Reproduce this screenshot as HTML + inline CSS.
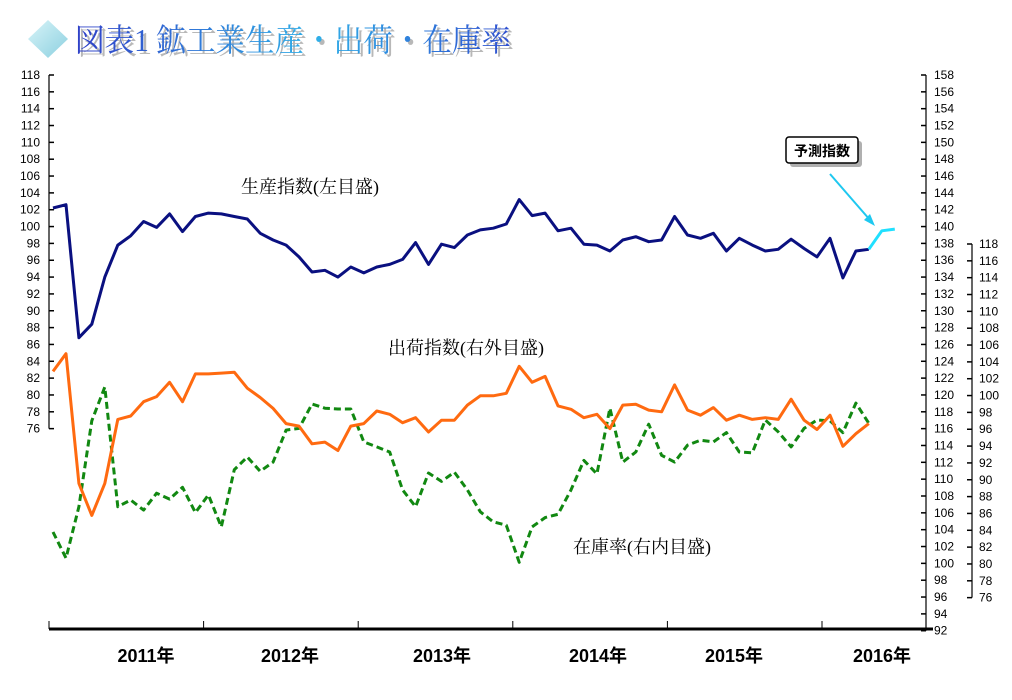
<!DOCTYPE html>
<html><head><meta charset="utf-8"><style>
html,body{margin:0;padding:0;background:#fff;}
svg{display:block;}
text{font-family:"Liberation Sans","Noto Sans CJK JP",sans-serif;}
.tk{font-size:12px;fill:#000;}
.lbl{font-family:"Liberation Serif","Noto Serif CJK JP",serif;font-size:18px;fill:#000;}
</style></head><body>
<svg id="chart" width="1012" height="700" viewBox="0 0 1012 700" xmlns="http://www.w3.org/2000/svg">
<defs>
<linearGradient id="tg" x1="0" x2="1" y1="0" y2="0"><stop offset="0" stop-color="#3040c8"/><stop offset="0.55" stop-color="#30b0e8"/><stop offset="1" stop-color="#3050d0"/></linearGradient>
<linearGradient id="dg" x1="0" x2="1" y1="0" y2="1"><stop offset="0" stop-color="#d8f4f8"/><stop offset="1" stop-color="#8cd0e0"/></linearGradient>
</defs>
<g>
<polygon points="48,20 68,39 48,58 28,39" fill="url(#dg)"/>
<text x="78" y="54" font-size="32" fill="#b8b8b8" textLength="436" lengthAdjust="spacingAndGlyphs" style="font-family:'Liberation Serif','Noto Serif CJK JP',serif">図表1 鉱工業生産・出荷・在庫率</text>
<text x="75" y="51" font-size="32" fill="url(#tg)" textLength="436" lengthAdjust="spacingAndGlyphs" style="font-family:'Liberation Serif','Noto Serif CJK JP',serif">図表1 鉱工業生産・出荷・在庫率</text>
</g>
<g id="axes"></g>
<g id="series"></g>
<text class="lbl" x="241" y="193">生産指数(左目盛)</text>
<text class="lbl" x="388" y="354">出荷指数(右外目盛)</text>
<text class="lbl" x="573" y="553">在庫率(右内目盛)</text>
<g>
<rect x="790" y="141" width="72" height="26" rx="3" fill="#b0b0b0"/>
<rect x="786" y="137" width="72" height="26" rx="3" fill="#fff" stroke="#000" stroke-width="1.5"/>
<text x="822" y="156" text-anchor="middle" font-size="14" font-weight="bold" style="font-family:'Liberation Sans','Noto Sans CJK JP',sans-serif">予測指数</text>
<line x1="830" y1="174" x2="870" y2="220" stroke="#1ec8f0" stroke-width="2"/>
<polygon points="875,226 864,220 870,214" fill="#1ec8f0"/>
</g>
</svg>
<script>
const production = [102.2,102.6,86.8,88.4,94.0,97.8,98.9,100.6,99.9,101.5,99.4,101.2,101.6,101.5,101.2,100.9,99.2,98.4,97.8,96.4,94.6,94.8,94.0,95.2,94.5,95.2,95.5,96.1,98.1,95.5,97.9,97.5,99.0,99.6,99.8,100.3,103.2,101.3,101.6,99.5,99.8,97.9,97.8,97.1,98.4,98.8,98.2,98.4,101.2,99.0,98.6,99.2,97.1,98.6,97.8,97.1,97.3,98.5,97.4,96.4,98.6,93.9,97.1,97.3];
const forecast = [97.3,99.5,99.7];
const shipments = [122.8,124.9,109.5,105.7,109.5,117.1,117.5,119.2,119.8,121.5,119.2,122.5,122.5,122.6,122.7,120.8,119.7,118.4,116.6,116.3,114.2,114.4,113.4,116.3,116.6,118.1,117.7,116.7,117.3,115.6,117.0,117.0,118.8,119.9,119.9,120.2,123.4,121.5,122.2,118.7,118.3,117.3,117.7,116.0,118.8,118.9,118.2,118.0,121.2,118.2,117.6,118.5,117.0,117.6,117.1,117.3,117.1,119.5,117.0,115.9,117.6,113.9,115.4,116.6];
const inventory = [83.8,80.7,86.8,97.0,101.0,86.8,87.6,86.4,88.4,87.7,89.1,86.1,88.2,84.4,91.2,92.7,91.0,92.1,95.9,96.1,99.0,98.5,98.4,98.4,94.5,93.9,93.3,88.8,86.8,90.8,89.8,90.9,88.8,86.2,85.0,84.6,80.2,84.4,85.5,85.9,88.8,92.3,90.7,98.5,92.1,93.3,96.6,92.9,92.1,94.1,94.7,94.5,95.6,93.3,93.2,97.1,95.7,93.9,96.1,97.1,97.0,95.6,99.1,96.7];
const leftTicks = [76,78,80,82,84,86,88,90,92,94,96,98,100,102,104,106,108,110,112,114,116,118];
const outerTicks = [92,94,96,98,100,102,104,106,108,110,112,114,116,118,120,122,124,126,128,130,132,134,136,138,140,142,144,146,148,150,152,154,156,158];
const innerTicks = [76,78,80,82,84,86,88,90,92,94,96,98,100,102,104,106,108,110,112,114,116,118];
const yearLabels = ["2011年","2012年","2013年","2014年","2015年","2016年"];

const NS="http://www.w3.org/2000/svg";
const PX=8.42;
const xAt=i=>53+i*12.95;
const yLeft=v=>75+(118-v)*PX;
const yOuter=v=>75+(158-v)*PX;
const yInner=v=>244+(118-v)*PX;
const labelCenters=[146,290,442,598,734,882];
function mk(tag,attrs,parent){const e=document.createElementNS(NS,tag);for(const k in attrs)e.setAttribute(k,attrs[k]);parent.appendChild(e);return e;}
const ax=document.getElementById('axes');
const se=document.getElementById('series');

let l=mk('line',{x1:49,y1:yLeft(118),x2:49,y2:yLeft(76),stroke:'#000','stroke-width':1.2},ax);


leftTicks.forEach(v=>{const y=yLeft(v);
 mk('line',{x1:49,y1:y,x2:54,y2:y,stroke:'#000','stroke-width':1.5},ax);
 const t=mk('text',{x:40,y:y+4,'text-anchor':'end',class:'tk'},ax);t.textContent=v;
 
 });
l=mk('line',{x1:926,y1:yOuter(158),x2:926,y2:yOuter(92),stroke:'#000','stroke-width':1.2},ax);


outerTicks.forEach(v=>{const y=yOuter(v);
 mk('line',{x1:921,y1:y,x2:926,y2:y,stroke:'#000','stroke-width':1.5},ax);
 const t=mk('text',{x:934,y:y+4,class:'tk'},ax);t.textContent=v;
 
 });
l=mk('line',{x1:972,y1:yInner(118),x2:972,y2:yInner(76),stroke:'#000','stroke-width':1.2},ax);


innerTicks.forEach(v=>{const y=yInner(v);
 mk('line',{x1:967,y1:y,x2:972,y2:y,stroke:'#000','stroke-width':1.5},ax);
 const t=mk('text',{x:979,y:y+4,class:'tk'},ax);t.textContent=v;
 
 });
l=mk('line',{x1:49,y1:629,x2:933,y2:629,stroke:'#000','stroke-width':3},ax);


yearLabels.forEach((s,k)=>{const tx=49+k*154.6;
 mk('line',{x1:tx,y1:621,x2:tx,y2:629,stroke:'#000','stroke-width':1},ax);
 const t=mk('text',{x:labelCenters[k],y:662,'text-anchor':'middle','font-size':18,'font-weight':'bold'},ax);t.textContent=s;
 
 });

function path(arr,yf,off){return arr.map((v,i)=>(i?'L':'M')+xAt(i+off).toFixed(1)+','+yf(v).toFixed(1)).join(' ');}
let p=mk('path',{d:path(inventory,yInner,0),fill:'none',stroke:'#118811','stroke-width':3,'stroke-dasharray':'7,4','stroke-linejoin':'round'},se);


p=mk('path',{d:path(shipments,yOuter,0),fill:'none',stroke:'#ff6a10','stroke-width':3,'stroke-linejoin':'round'},se);


p=mk('path',{d:path(production,yLeft,0),fill:'none',stroke:'#0a1080','stroke-width':3,'stroke-linejoin':'round'},se);


p=mk('path',{d:path(forecast,yLeft,production.length-1),fill:'none',stroke:'#20e0ff','stroke-width':3,'stroke-linejoin':'round'},se);


</script>
</body></html>
